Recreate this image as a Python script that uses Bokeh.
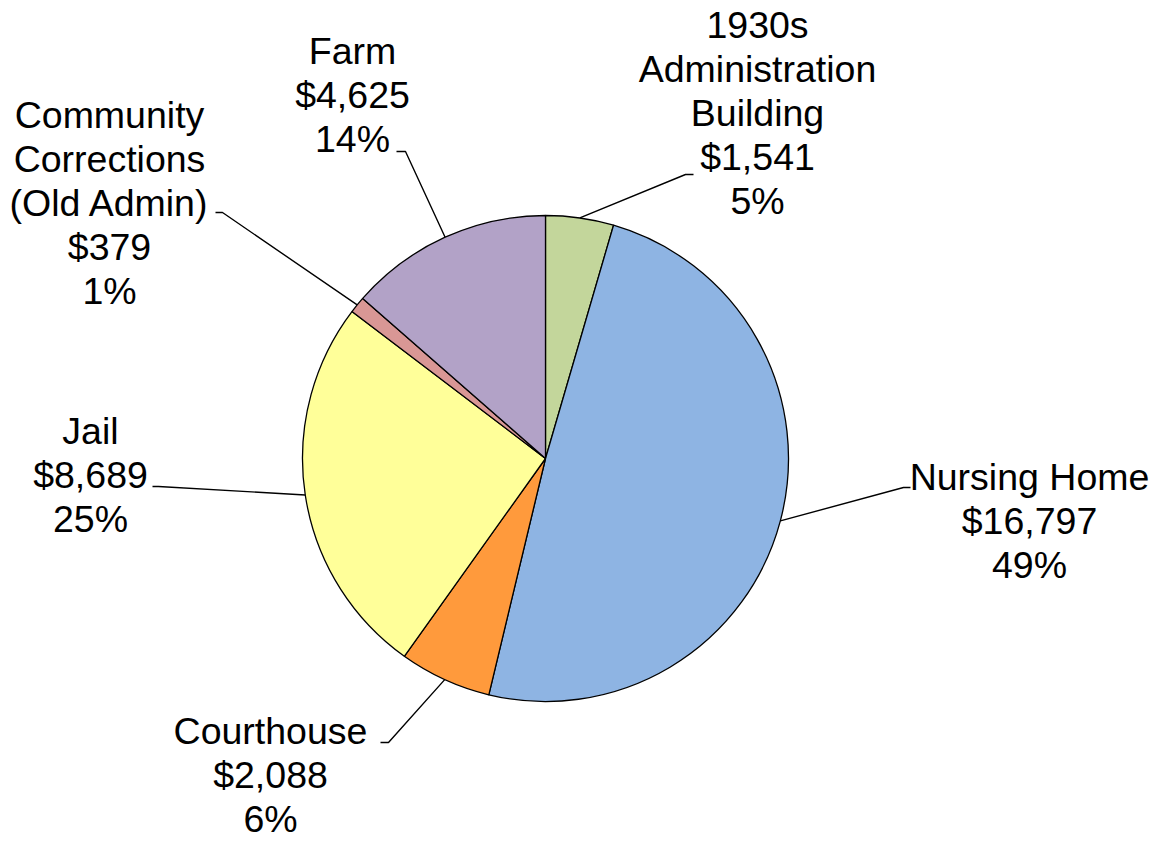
import math
from bokeh.plotting import figure
from bokeh.models import Range1d, ColumnDataSource
from bokeh.core.properties import value
from bokeh.embed import file_html
from bokeh.resources import INLINE

# ---- data ----
categories = ["1930s\nAdministration\nBuilding", "Nursing Home", "Courthouse", "Jail",
              "Community\nCorrections\n(Old Admin)", "Farm"]
amounts = [1541, 16797, 2088, 8689, 379, 4625]
colors = ["#C3D69B", "#8EB4E3", "#FF9A3C", "#FFFF99", "#D99795", "#B2A2C7"]

# ---- layout (pixel coordinates: x right, y down from top of the plot) ----
label_pos = [(757, 37), (1029, 489), (270, 743), (90, 443), (109, 127), (352, 63)]
elbows = [((685, 174), (693, 174)), ((903, 487), (910, 487)), ((388, 742), (380, 742)),
          ((158, 486), (152, 486)), ((222, 212), (215, 212)), ((405, 151), (396, 151))]
CX, CY, R = 545, 458, 243
LINE_H = 44
TEXT_DY = 13          # compensation for the renderer's baseline placement
FONT_PX = "37.5px"
W, H = 1152, 840

def fy(y):
    return H - y

p = figure(width=W, height=H, output_backend="svg", toolbar_location=None,
           x_range=Range1d(0, W), y_range=Range1d(0, H), min_border=0)
p.axis.visible = False
p.grid.visible = False
p.outline_line_color = None

total = sum(amounts)
starts, ends, mids = [], [], []
cum = 0.0
for a in amounts:
    f0 = cum / total
    cum += a
    f1 = cum / total
    starts.append(math.pi / 2 - 2 * math.pi * f0)
    ends.append(math.pi / 2 - 2 * math.pi * f1)
    mids.append(2 * math.pi * (f0 + f1) / 2)

src = ColumnDataSource(dict(start=starts, end=ends, color=colors))
p.wedge(x=CX, y=fy(CY), radius=R, start_angle="start", end_angle="end",
        direction="clock", fill_color="color", line_color="black", line_width=1.3,
        source=src)

for i, (cat, amt) in enumerate(zip(categories, amounts)):
    m = mids[i]
    ex = CX + R * math.sin(m)
    ey = CY - R * math.cos(m)
    (bx, by), (hx, hy) = elbows[i]
    p.line([ex, bx, hx], [fy(ey), fy(by), fy(hy)], line_color="black", line_width=1.4)
    lines = cat.split("\n") + ["${:,}".format(amt), "{}%".format(round(amt / total * 100))]
    lx, ly = label_pos[i]
    for j, t in enumerate(lines):
        p.text(x=[lx], y=[fy(ly + j * LINE_H - TEXT_DY)], text=[t], text_align="center",
               text_baseline="alphabetic", text_font=value("Liberation Sans"),
               text_font_size=FONT_PX, text_color="black")

open("out.html", "w").write(file_html(p, INLINE))
